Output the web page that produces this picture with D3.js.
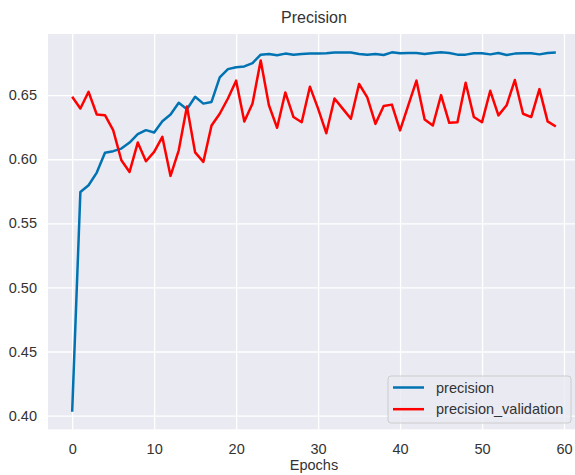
<!DOCTYPE html>
<html>
<head>
<meta charset="utf-8">
<script src="https://cdn.jsdelivr.net/npm/d3@7"></script>
<style>
  body { margin: 0; background: #fff; }
  text { font-family: "Liberation Sans", Arial, sans-serif; fill: #333; }
</style>
</head>
<body>
<script>
//Declare consts/global variables
const width = 575;
const height = 475;

//Data
const epochs = d3.range(0, 60);
const precision = [0.403, 0.5745, 0.5797, 0.5896, 0.605, 0.6063, 0.6083, 0.613, 0.6195, 0.6227,
    0.6208, 0.6297, 0.6349, 0.644, 0.639, 0.6487, 0.6434, 0.6447, 0.6639, 0.6703,
    0.6718, 0.6724, 0.675, 0.6816, 0.6821, 0.6811, 0.6824, 0.6816, 0.6821, 0.6824,
    0.6824, 0.6826, 0.6832, 0.6832, 0.6832, 0.6821, 0.6816, 0.6821, 0.6813, 0.6834,
    0.6826, 0.6829, 0.6829, 0.6821, 0.6829, 0.6834, 0.6829, 0.6816, 0.6816, 0.6826,
    0.6826, 0.6818, 0.6829, 0.6813, 0.6824, 0.6826, 0.6826, 0.6818, 0.6829, 0.6832];
const precisionValidation = [0.6487, 0.6396, 0.6526, 0.6349, 0.6344, 0.6227, 0.5992, 0.5901, 0.613, 0.5984,
    0.6057, 0.6174, 0.587, 0.607, 0.6411, 0.6053, 0.5979, 0.6263, 0.6355, 0.6474,
    0.6613, 0.6295, 0.6434, 0.6771, 0.6421, 0.6245, 0.6521, 0.6329, 0.6289, 0.6566,
    0.6395, 0.6203, 0.6474, 0.6395, 0.6316, 0.6587, 0.6482, 0.6276, 0.6416, 0.6426,
    0.6225, 0.6421, 0.6613, 0.631, 0.6263, 0.65, 0.6284, 0.6289, 0.6597, 0.6329,
    0.6289, 0.6534, 0.6342, 0.6421, 0.6618, 0.6355, 0.6329, 0.6547, 0.6295, 0.6255];
const xTicks = [0, 10, 20, 30, 40, 50, 60];
const yTicks = [0.40, 0.45, 0.50, 0.55, 0.60, 0.65];
const seriesNames = ["precision", "precision_validation"];
const colors = ["#0173b2", "#ff0000"];

//plot box
const plotLeft = 48, plotRight = 580, plotTop = 34, plotBottom = 429.3;

//Scales
const xScale = d3.scaleLinear()
                .domain([-2.95, 61.95])
                .range([plotLeft, plotRight]);

const yScale = d3.scaleLinear()
                .domain([0.3893, 0.6977])
                .range([plotBottom, plotTop]);

//SVG
const svg = d3.select("body")
            .append("svg")
            .attr("width", width)
            .attr("height", height);

svg.append("rect")
    .attr("x", plotLeft)
    .attr("y", plotTop)
    .attr("width", plotRight - plotLeft)
    .attr("height", plotBottom - plotTop)
    .attr("fill", "#eaeaf2");

//Axes - gridlines are the tick lines
const bottomAxis = d3.axisBottom(xScale)
                    .tickValues(xTicks)
                    .tickFormat(d3.format("d"))
                    .tickSize(-(plotBottom - plotTop))
                    .tickPadding(14);

const leftAxis = d3.axisLeft(yScale)
                    .tickValues(yTicks)
                    .tickFormat(d3.format(".2f"))
                    .tickSize(-(plotRight - plotLeft))
                    .tickPadding(11);

const gx = svg.append("g")
    .attr("transform", "translate(0," + plotBottom + ")")
    .call(bottomAxis);

const gy = svg.append("g")
    .attr("transform", "translate(" + plotLeft + ",0)")
    .call(leftAxis);

[gx, gy].forEach(g => {
    g.select(".domain").remove();
    g.selectAll("line").attr("stroke", "#fff").attr("stroke-width", 1.3);
    g.selectAll("text").style("font-size", "14.5px").attr("fill", "#333");
});

//Lines
const line = d3.line()
    .x((d, i) => xScale(epochs[i]))
    .y(d => yScale(d));

[precision, precisionValidation].forEach((s, k) => {
    svg.append("path")
        .datum(s)
        .attr("fill", "none")
        .attr("stroke", colors[k])
        .attr("stroke-width", 2.5)
        .attr("stroke-linejoin", "round")
        .attr("d", line);
});

//Title + axis label
svg.append("text")
    .attr("x", (plotLeft + plotRight) / 2)
    .attr("y", 23)
    .attr("text-anchor", "middle")
    .style("font-size", "16px")
    .text("Precision");

svg.append("text")
    .attr("x", (plotLeft + plotRight) / 2)
    .attr("y", 470)
    .attr("text-anchor", "middle")
    .style("font-size", "14.5px")
    .text("Epochs");

//Legend
const legend = svg.append("g").attr("transform", "translate(388,376)");

legend.append("rect")
    .attr("width", 183)
    .attr("height", 47)
    .attr("rx", 3)
    .attr("fill", "#eaeaf2")
    .attr("fill-opacity", 0.8)
    .attr("stroke", "#cccccc");

seriesNames.forEach((name, i) => {
    legend.append("line")
        .attr("x1", 5).attr("x2", 36)
        .attr("y1", 11.5 + i * 21.7).attr("y2", 11.5 + i * 21.7)
        .attr("stroke", colors[i])
        .attr("stroke-width", 2.5);
    legend.append("text")
        .attr("x", 48)
        .attr("y", 11.5 + i * 21.7)
        .attr("dy", "0.35em")
        .style("font-size", "14.5px")
        .text(name);
});
</script>
</body>
</html>
